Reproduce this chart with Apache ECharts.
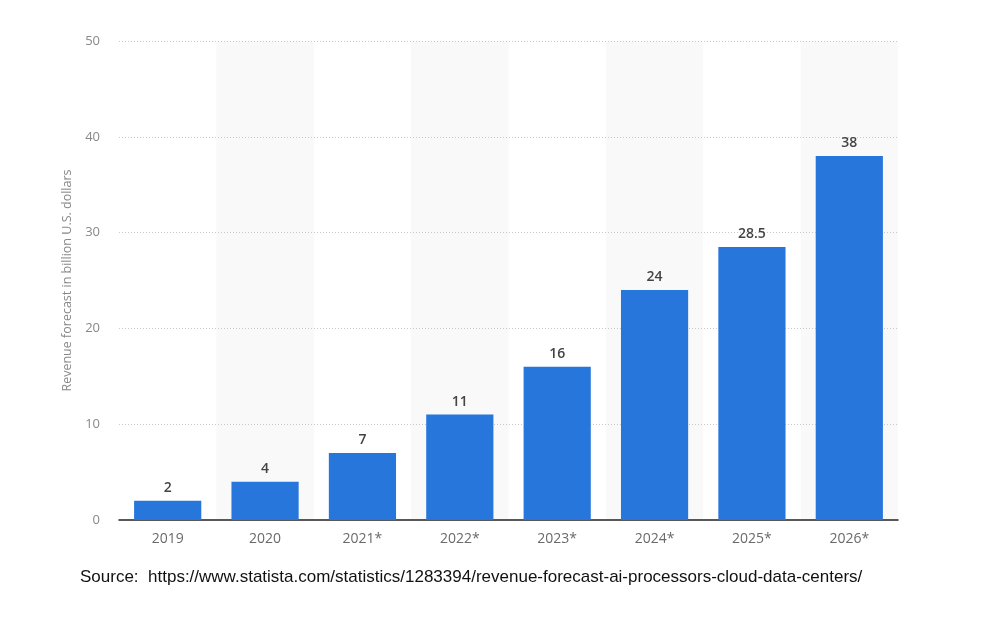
<!DOCTYPE html>
<html>
<head>
<meta charset="utf-8">
<script src="https://cdn.jsdelivr.net/npm/echarts@6/dist/echarts.min.js"></script>
<style>
  html, body { margin: 0; padding: 0; background: #fff; }
  #chart { width: 1002px; height: 624px; }
</style>
</head>
<body>
<div id="chart"></div>
<script>
// data
const years = ['2019', '2020', '2021*', '2022*', '2023*', '2024*', '2025*', '2026*'];
const revenue = [2, 4, 7, 11, 16, 24, 28.5, 38];
const yTicks = { min: 0, max: 50, interval: 10 };

const chart = echarts.init(document.getElementById('chart'));

chart.setOption({
    animation: false,
    textStyle: { fontFamily: 'Open Sans, DejaVu Sans, sans-serif' },
    grid: { left: 119, right: 104, top: 41, bottom: 104 },
    graphic: [{
        type: 'text',
        left: 80,
        top: 569,
        style: {
            text: 'Source:  https://www.statista.com/statistics/1283394/revenue-forecast-ai-processors-cloud-data-centers/',
            fill: '#111',
            font: '17px "Liberation Sans", Arial, sans-serif'
        }
    }],
    xAxis: {
        type: 'category',
        data: years,
        z: 0,
        axisLine: { lineStyle: { color: '#222', width: 1.5 } },
        axisTick: { show: false },
        axisLabel: { color: '#6a6a6a', fontSize: 14, margin: 12 },
        splitArea: {
            show: true,
            areaStyle: { color: ['rgba(255,255,255,0)', '#f9f9f9'] }
        }
    },
    yAxis: {
        type: 'value',
        z: 1,
        min: yTicks.min,
        max: yTicks.max,
        interval: yTicks.interval,
        name: 'Revenue forecast in billion U.S. dollars',
        nameLocation: 'middle',
        nameGap: 44,
        nameTextStyle: { color: '#888', fontSize: 12.5 },
        axisLine: { show: false },
        axisTick: { show: false },
        axisLabel: { color: '#888', fontSize: 13, margin: 19 },
        splitLine: {
            showMinLine: false,
            lineStyle: { color: '#c8c8c8', type: [1, 2], width: 1 }
        }
    },
    series: [{
        type: 'bar',
        data: revenue,
        barWidth: '69%',
        itemStyle: { color: '#2676dc' },
        label: {
            show: true,
            position: 'top',
            distance: 6,
            color: '#444',
            fontSize: 14,
            fontWeight: 600
        }
    }]
});
</script>
</body>
</html>
